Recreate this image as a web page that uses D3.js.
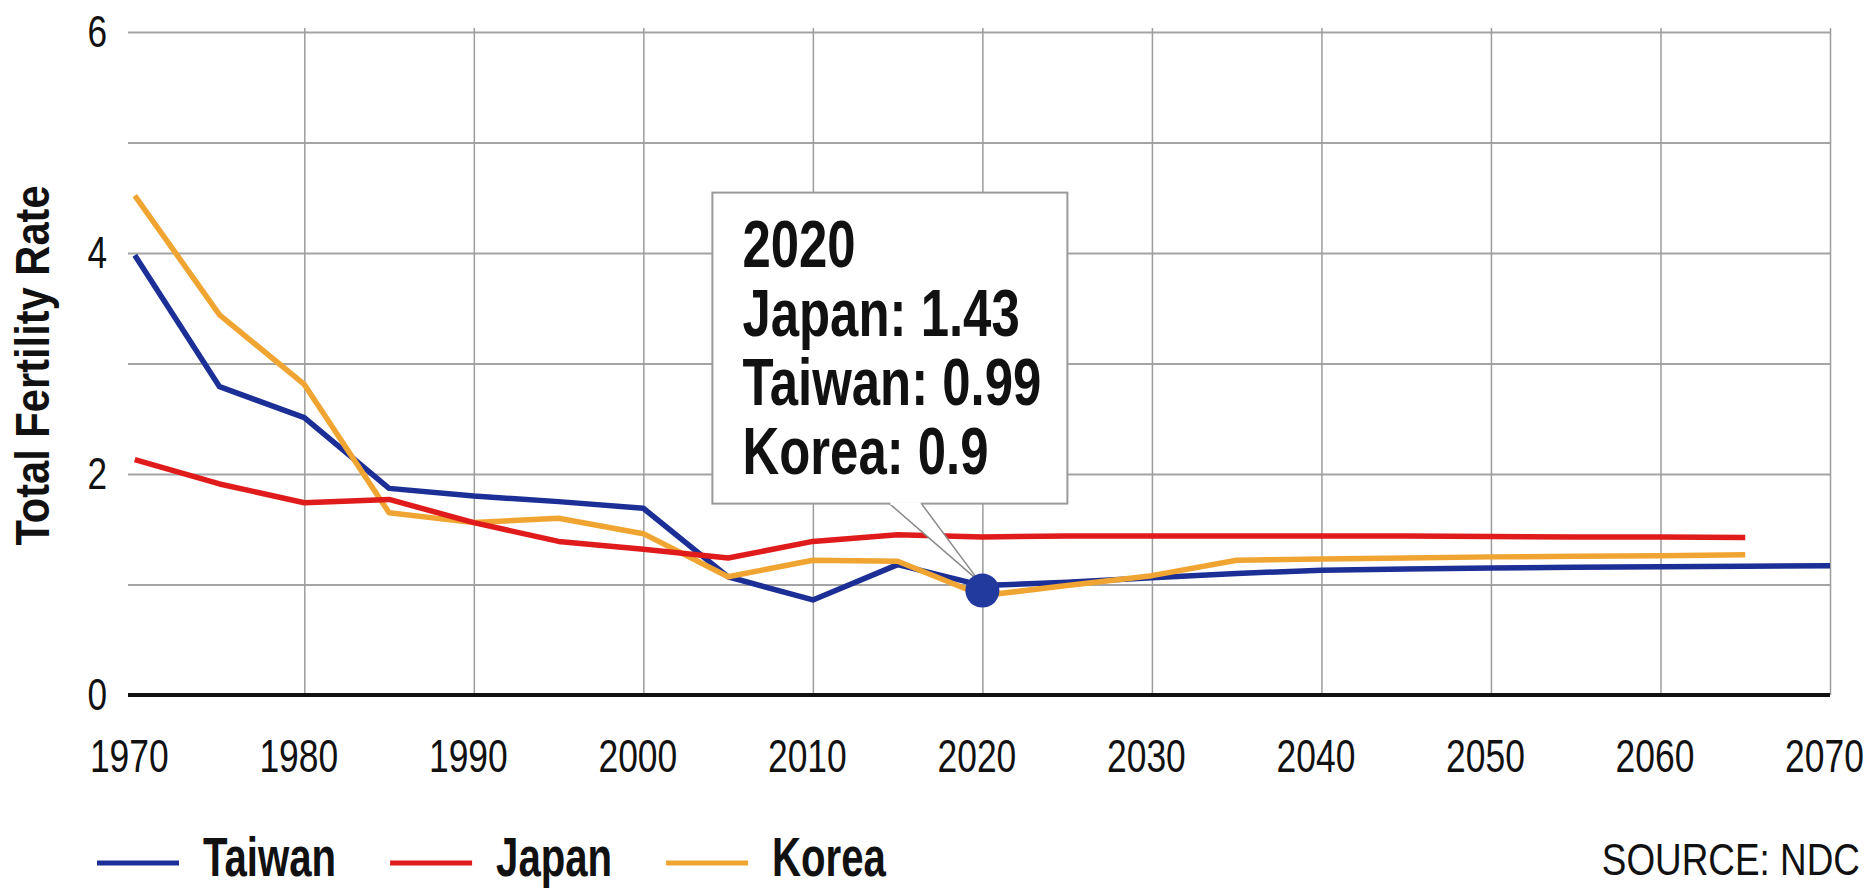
<!DOCTYPE html>
<html>
<head>
<meta charset="utf-8">
<script src="https://cdn.jsdelivr.net/npm/d3@7"></script>
<style>
  body { margin: 0; background: #fff; }
  svg text { font-family: "Liberation Sans", Arial, sans-serif; fill: #111; }
</style>
</head>
<body>
<div id="chart"></div>
<script>
// data
const years  = [1970, 1975, 1980, 1985, 1990, 1995, 2000, 2005, 2010, 2015, 2020,
                2025, 2030, 2035, 2040, 2045, 2050, 2055, 2060, 2065, 2070];
const taiwan = [3.98, 2.79, 2.51, 1.87, 1.80, 1.75, 1.69, 1.07, 0.86, 1.18, 0.99,
                1.02, 1.06, 1.10, 1.13, 1.14, 1.15, 1.155, 1.16, 1.165, 1.17];
const japan  = [2.13, 1.91, 1.74, 1.77, 1.56, 1.39, 1.32, 1.24, 1.39, 1.45, 1.43,
                1.44, 1.44, 1.44, 1.44, 1.44, 1.435, 1.43, 1.43, 1.425];
const korea  = [4.52, 3.44, 2.81, 1.65, 1.56, 1.60, 1.46, 1.07, 1.22, 1.21, 0.90,
                0.99, 1.08, 1.22, 1.23, 1.24, 1.25, 1.255, 1.26, 1.27];
const xTicks = [1970, 1980, 1990, 2000, 2010, 2020, 2030, 2040, 2050, 2060, 2070];
const yTicks = [0, 2, 4, 6];
const yGrid  = [1, 2, 3, 4, 5, 6];
const highlightYear = 2020;

const series = [
  { name: 'Taiwan', values: taiwan, color: '#1c2f96' },
  { name: 'Korea',  values: korea,  color: '#f0a532' },
  { name: 'Japan',  values: japan,  color: '#e01b1b' }
];
const legendOrder = ['Taiwan', 'Japan', 'Korea'];

const width = 1871, height = 890;
const plotLeft = 128, plotRight = 1830, plotTop = 32, plotBottom = 695;

// no narrow font installed, so squeeze the glyphs like Arial Narrow
function narrow(sel, k) {
  sel.each(function () {
    const t = d3.select(this);
    const x0 = +(t.attr('x') || 0);
    const dx0 = parseFloat(t.attr('dx') || 0);
    t.attr('x', x0 / k).attr('dx', dx0 / k)
     .attr('transform', ((t.attr('transform') || '') + ` scale(${k},1)`).trim());
  });
}

const svg = d3.select('#chart').append('svg')
  .attr('width', width)
  .attr('height', height);

const x = d3.scaleLinear().domain([1969.6, 2070]).range([plotLeft, plotRight]);
const y = d3.scaleLinear().domain([0, 6]).range([plotBottom, plotTop]);

// grid
svg.append('g')
  .attr('transform', `translate(${plotLeft},0)`)
  .call(d3.axisLeft(y).tickValues(yGrid).tickSize(-(plotRight - plotLeft)).tickFormat(''))
  .call(g => g.select('.domain').remove())
  .selectAll('line').attr('stroke', '#a4a4a4').attr('stroke-width', 2);

svg.append('g')
  .attr('transform', `translate(0,${plotBottom})`)
  .call(d3.axisBottom(x).tickValues(xTicks.slice(1)).tickSize(-(plotBottom - plotTop + 4)).tickFormat(''))
  .call(g => g.select('.domain').remove())
  .selectAll('line').attr('stroke', '#9c9c9c').attr('stroke-width', 1.5);

// tick labels
const xAxis = svg.append('g')
  .attr('transform', `translate(0,${plotBottom})`)
  .call(d3.axisBottom(x).tickValues(xTicks).tickSize(0).tickFormat(d3.format('d')))
  .call(g => g.select('.domain').remove());
xAxis.selectAll('text')
  .attr('y', 77).attr('dy', 0).attr('dx', -6)
  .style('font-size', '46px')
  .call(narrow, 0.77);

svg.append('g')
  .attr('transform', `translate(${plotLeft},0)`)
  .call(d3.axisLeft(y).tickValues(yTicks).tickSize(0).tickPadding(21).tickFormat(d3.format('d')))
  .call(g => g.select('.domain').remove())
  .selectAll('text').style('font-size', '44px')
  .call(narrow, 0.8);

// zero line
svg.append('line')
  .attr('x1', plotLeft).attr('x2', plotRight)
  .attr('y1', y(0)).attr('y2', y(0))
  .attr('stroke', '#111').attr('stroke-width', 4);

svg.append('text')
  .attr('transform', `translate(49,${(plotTop + plotBottom) / 2 + 2}) rotate(-90)`)
  .attr('text-anchor', 'middle')
  .style('font-size', '49px').style('font-weight', 'bold')
  .text('Total Fertility Rate')
  .call(narrow, 0.85);

// lines
const line = d3.line()
  .x((d, i) => x(years[i]))
  .y(d => y(d));

svg.selectAll('.series')
  .data(series)
  .enter()
  .append('path')
  .attr('class', 'series')
  .attr('d', d => line(d.values))
  .attr('fill', 'none')
  .attr('stroke', d => d.color)
  .attr('stroke-width', 5.5)
  .attr('stroke-linejoin', 'round');

// tooltip at the highlighted year
const hi = years.indexOf(highlightYear);
const px = x(highlightYear), py = y(taiwan[hi]);
const boxX = px - 270, boxY = py - 393, boxW = 355, boxH = 311;

svg.append('rect')
  .attr('x', boxX).attr('y', boxY)
  .attr('width', boxW).attr('height', boxH)
  .attr('fill', '#fff').attr('stroke', '#9a9a9a').attr('stroke-width', 2);

const baseY = boxY + boxH;
svg.append('path')
  .attr('d', `M${px - 93},${baseY} L${px - 3},${py - 4} L${px - 61},${baseY}`)
  .attr('fill', '#fff').attr('stroke', '#8a8a8a').attr('stroke-width', 1.5);
svg.append('line')
  .attr('x1', px - 92).attr('x2', px - 62)
  .attr('y1', baseY).attr('y2', baseY)
  .attr('stroke', '#fff').attr('stroke-width', 3);

const tipLines = [
  String(highlightYear),
  'Japan: ' + japan[hi],
  'Taiwan: ' + taiwan[hi],
  'Korea: ' + korea[hi]
];
svg.append('g').selectAll('text')
  .data(tipLines)
  .enter()
  .append('text')
  .attr('x', boxX + 30)
  .attr('y', (d, i) => boxY + 74 + i * 69)
  .style('font-size', '67px').style('font-weight', 'bold')
  .text(d => d)
  .call(narrow, 0.76);

svg.append('circle')
  .attr('cx', px).attr('cy', py + 5)
  .attr('r', 17)
  .attr('fill', '#22399e');

// legend
let lx = 97;
legendOrder.forEach(name => {
  const s = series.find(d => d.name === name);
  svg.append('line')
    .attr('x1', lx).attr('x2', lx + 82)
    .attr('y1', 863).attr('y2', 863)
    .attr('stroke', s.color).attr('stroke-width', 5);
  const t = svg.append('text')
    .attr('x', lx + 106).attr('y', 876)
    .style('font-size', '55px').style('font-weight', 'bold')
    .text(name)
    .call(narrow, 0.73);
  lx += 106 + t.node().getComputedTextLength() * 0.73 + 54;
});

svg.append('text')
  .attr('x', 1860).attr('y', 875)
  .attr('text-anchor', 'end')
  .style('font-size', '45px')
  .text('SOURCE: NDC')
  .call(narrow, 0.82);
</script>
</body>
</html>
